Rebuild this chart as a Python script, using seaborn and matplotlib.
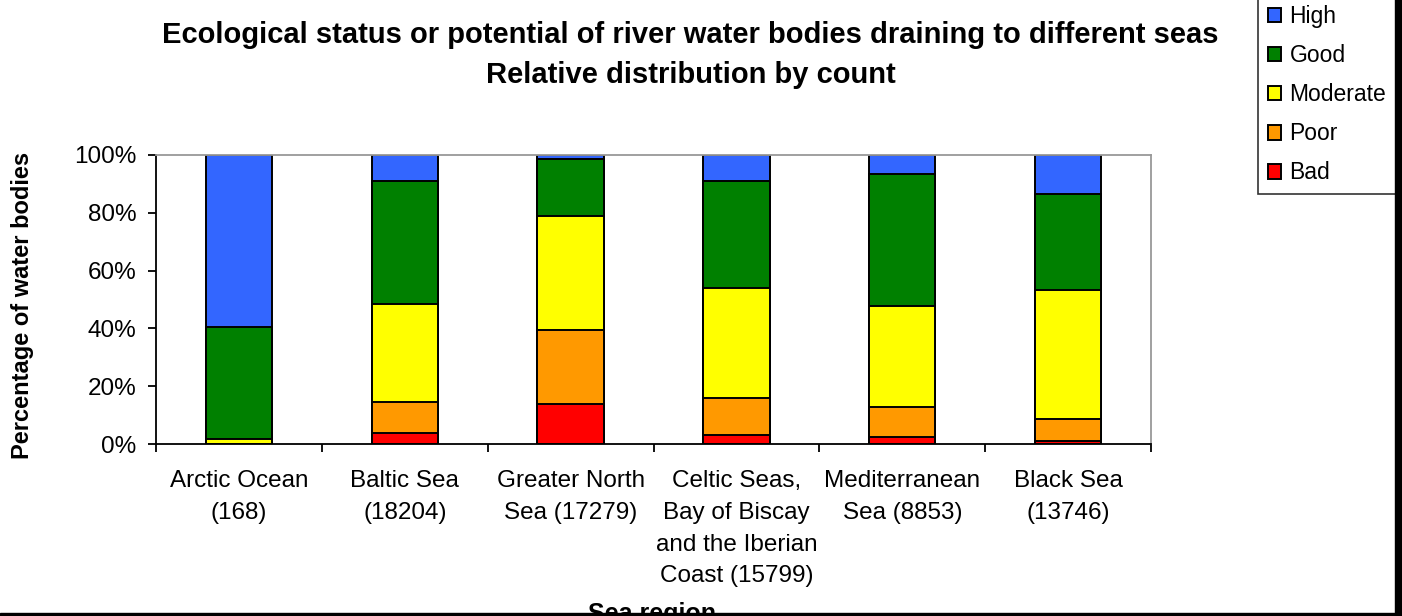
import numpy as np
import pandas as pd
import matplotlib
matplotlib.use("Agg")
import matplotlib.pyplot as plt
from matplotlib.patches import Rectangle
from matplotlib.ticker import FixedLocator
import seaborn as sns

# Sea regions (number of river water bodies in brackets)
regions = [
    "Arctic Ocean\n(168)",
    "Baltic Sea\n(18204)",
    "Greater North\nSea (17279)",
    "Celtic Seas,\nBay of Biscay\nand the Iberian\nCoast (15799)",
    "Mediterranean\nSea (8853)",
    "Black Sea\n(13746)",
]

# Share of water bodies per ecological status class (%)
bad = [0.0, 3.7, 13.8, 3.1, 2.5, 1.2]
poor = [0.0, 10.8, 25.6, 12.8, 10.3, 7.6]
moderate = [1.8, 33.8, 39.4, 38.1, 34.9, 44.5]
good = [38.8, 42.7, 19.7, 37.0, 45.8, 33.2]
high = [59.4, 9.0, 1.5, 9.0, 6.5, 13.5]

status_names = ["Bad", "Poor", "Moderate", "Good", "High"]
status_colors = ["#FF0000", "#FF9900", "#FFFF00", "#008000", "#3366FF"]

y_ticks = [0, 20, 40, 60, 80, 100]
y_tick_labels = ["0%", "20%", "40%", "60%", "80%", "100%"]

sns.set_style("white")
plt.rcParams["font.family"] = ["Liberation Sans", "DejaVu Sans"]
plt.rcParams["text.color"] = "black"
plt.rcParams["axes.labelcolor"] = "black"
plt.rcParams["xtick.color"] = "black"
plt.rcParams["ytick.color"] = "black"

shares = np.array([bad, poor, moderate, good, high])
tops = np.cumsum(shares, axis=0)

fig = plt.figure(figsize=(14.02, 6.16), dpi=100)
ax = fig.add_axes([0.11127, 0.27922, 0.82097 - 0.11127, 0.74838 - 0.27922])

# Stack by drawing the cumulative bars from the top class downwards
for i in range(len(status_names) - 1, -1, -1):
    df = pd.DataFrame({"region": regions, "top": tops[i]})
    sns.barplot(data=df, x="region", y="top", order=regions, color=status_colors[i],
                saturation=1, width=0.4, edgecolor="black", linewidth=1.4,
                label=status_names[i], ax=ax)

if ax.get_legend() is not None:
    ax.get_legend().remove()

ax.set_xlim(-0.5, len(regions) - 0.5)
ax.set_ylim(0, 100)
ax.set_yticks(y_ticks)
ax.set_yticklabels(y_tick_labels)
ax.tick_params(axis="y", direction="out", length=6, width=1.3, pad=8,
               labelsize=17.5, colors="black", left=True)
ax.tick_params(axis="x", which="major", length=0, pad=19, labelsize=17.5,
               colors="black")
ax.xaxis.set_minor_locator(FixedLocator(np.arange(-0.5, len(regions), 1.0)))
ax.tick_params(axis="x", which="minor", direction="out", length=6, width=1.3,
               bottom=True, colors="black")
for lbl in ax.get_xticklabels():
    lbl.set_linespacing(1.57)
    lbl.set_color("black")

for side in ["left", "bottom"]:
    ax.spines[side].set_color("black")
    ax.spines[side].set_linewidth(1.3)
for side in ["top", "right"]:
    ax.spines[side].set_color("#999999")
    ax.spines[side].set_linewidth(1.3)
    ax.spines[side].set_visible(True)
ax.grid(False)

ax.set_ylabel("Percentage of water bodies", fontsize=17, fontweight="bold",
              color="black")
ax.yaxis.set_label_coords(-0.1226, 0.48)
ax.set_xlabel("Sea region", fontsize=18, fontweight="bold", color="black")
ax.xaxis.set_label_coords(0.498, -0.548)

fig.text(690 / 1402, 1 - 43.3 / 616,
         "Ecological status or potential of river water bodies draining to different seas",
         ha="center", va="baseline", fontsize=21, fontweight="bold", color="black")
fig.text(691 / 1402, 1 - 83 / 616, "Relative distribution by count",
         ha="center", va="baseline", fontsize=21, fontweight="bold", color="black")

handles, labels = ax.get_legend_handles_labels()
leg = fig.legend(handles, labels, loc="lower left",
                 bbox_to_anchor=(1258 / 1402, 1 - 194 / 616),
                 fontsize=16.5, frameon=True, fancybox=False, shadow=False,
                 borderaxespad=0, borderpad=0.42, handlelength=0.6,
                 handleheight=0.6, handletextpad=0.35, labelspacing=0.7)
leg.get_frame().set_edgecolor("black")
leg.get_frame().set_linewidth(1.2)
for t in leg.get_texts():
    t.set_color("black")

# Outer frame edges along the right and bottom of the image
fig.patches.append(Rectangle((1395 / 1402, 3 / 616), 7 / 1402, 1,
                             transform=fig.transFigure, color="black", zorder=10))
fig.patches.append(Rectangle((0, 0), 1, 3 / 616,
                             transform=fig.transFigure, color="black", zorder=10))

fig.savefig("out.png", dpi=100)
